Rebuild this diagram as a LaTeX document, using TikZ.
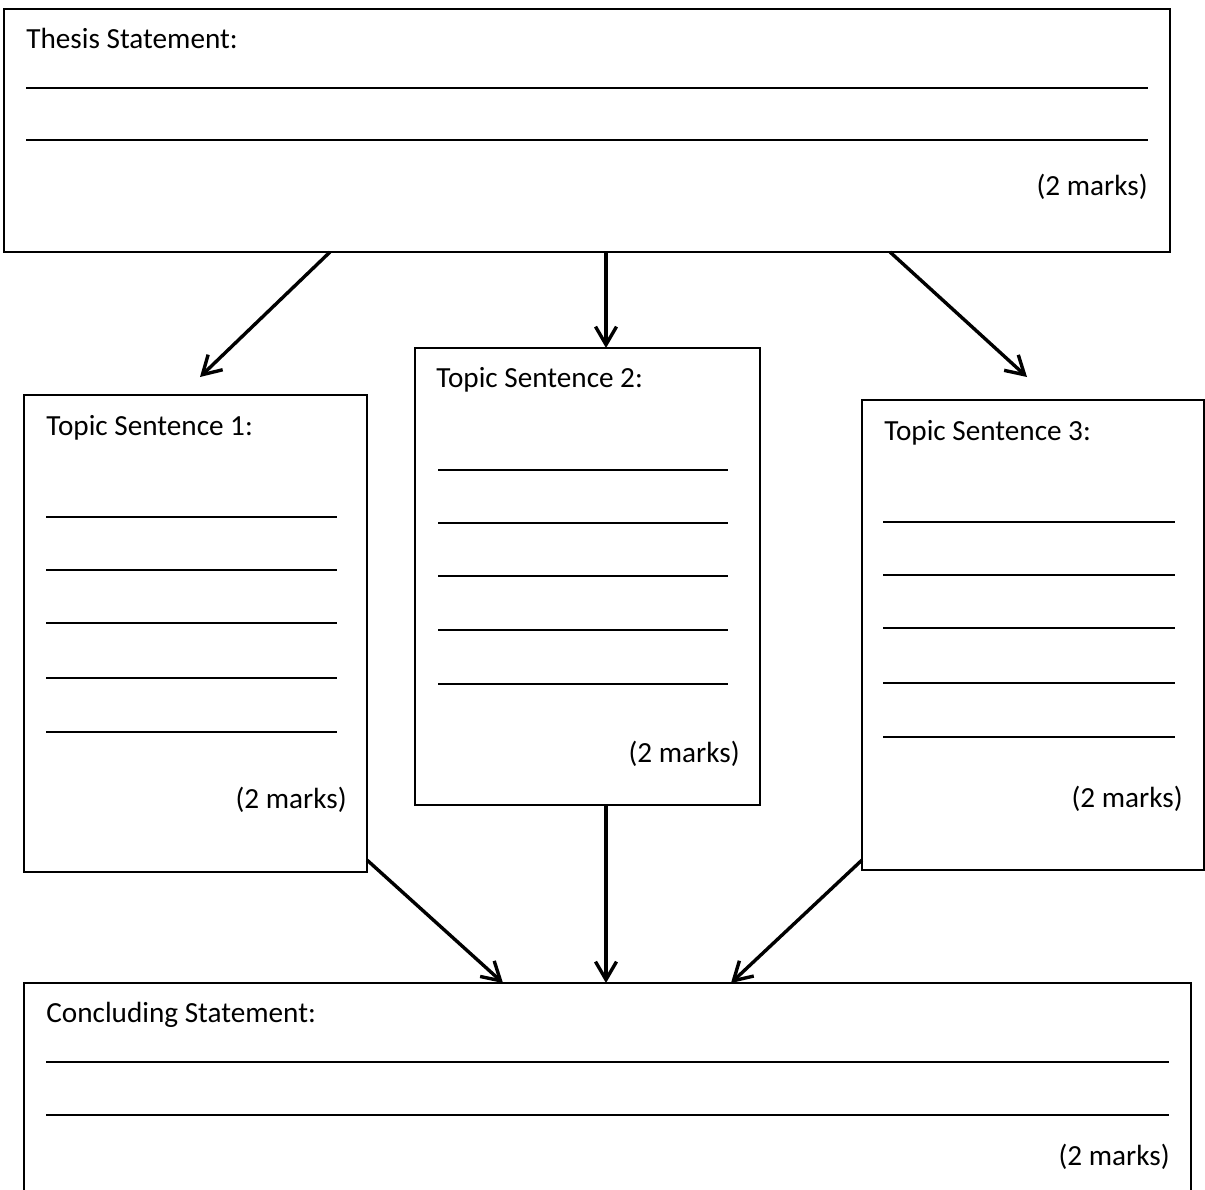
\documentclass[tikz,border=0pt]{standalone}
\usepackage{fontspec}
\setmainfont{Carlito}
\usetikzlibrary{arrows.meta}
\begin{document}
\begin{tikzpicture}[x=0.5pt,y=-0.5pt,
    box/.style={draw, line width=0.75pt, inner sep=0pt, outer sep=0pt, anchor=north west},
    lbl/.style={inner sep=0pt, font=\fontsize{14.6}{17}\selectfont},
    arr/.style={line width=1.7pt, -{Straight Barb[length=9pt,width=10.5pt,line width=1.7pt]}},
    rule/.style={line width=0.9pt}]
  \useasboundingbox (0,0) rectangle (1205,1189);
  \clip (0,0) rectangle (1205,1189);
  % boxes
  \node[box, minimum width=583pt, minimum height=121.5pt] (thesis) at (4,9) {};
  \node[box, minimum width=171.5pt, minimum height=238.5pt] (ts1) at (24,395) {};
  \node[box, minimum width=172.5pt, minimum height=228.5pt] (ts2) at (415,348) {};
  \node[box, minimum width=171pt, minimum height=235pt] (ts3) at (862,400) {};
  \node[box, minimum width=583.5pt, minimum height=108.5pt] (concl) at (24,983) {};
  % titles
  \node[lbl, anchor=base west] (thesisT) at (26,48) {Thesis Statement:};
  \node[lbl, anchor=base west] (ts1T) at (46,435) {Topic Sentence 1:};
  \node[lbl, anchor=base west] (ts2T) at (436,387) {Topic Sentence 2:};
  \node[lbl, anchor=base west] (ts3T) at (884,440) {Topic Sentence 3:};
  \node[lbl, anchor=base west] (conclT) at (46,1022) {Concluding Statement:};
  % marks
  \node[lbl, anchor=east] (thesisM) at (1148,187) {(2 marks)};
  \node[lbl, anchor=east] (ts1M) at (347,800) {(2 marks)};
  \node[lbl, anchor=east] (ts2M) at (740,754) {(2 marks)};
  \node[lbl, anchor=east] (ts3M) at (1183,799) {(2 marks)};
  \node[lbl, anchor=east] (conclM) at (1170,1157) {(2 marks)};
  % writing lines
  \foreach \y in {88,140} \draw[rule] (26,\y) -- (1148,\y);
  \foreach \y in {517,570,623,678,732} \draw[rule] (46,\y) -- (337,\y);
  \foreach \y in {470,523,576,630,684} \draw[rule] (438,\y) -- (728,\y);
  \foreach \y in {522,575,628,683,737} \draw[rule] (883,\y) -- (1175,\y);
  \foreach \y in {1062,1115} \draw[rule] (46,\y) -- (1169,\y);
  % arrow ends
  \coordinate (tip1) at (200,377);
  \coordinate (tip3) at (1027,377);
  % arrows
  \draw[arr] ([xshift=163pt]thesis.south west) -- (tip1);
  \draw[arr] ([xshift=301pt]thesis.south west) -- ([xshift=95.5pt]ts2.north west);
  \draw[arr] ([xshift=443pt]thesis.south west) -- (tip3);
  \draw[arr] ([yshift=6pt]ts1.south east) -- ([xshift=239.5pt]concl.north west);
  \draw[arr] ([xshift=95.5pt]ts2.south west) -- ([xshift=291pt]concl.north west);
  \draw[arr] ([yshift=5pt]ts3.south west) -- ([xshift=353.5pt]concl.north west);
\end{tikzpicture}
\end{document}
